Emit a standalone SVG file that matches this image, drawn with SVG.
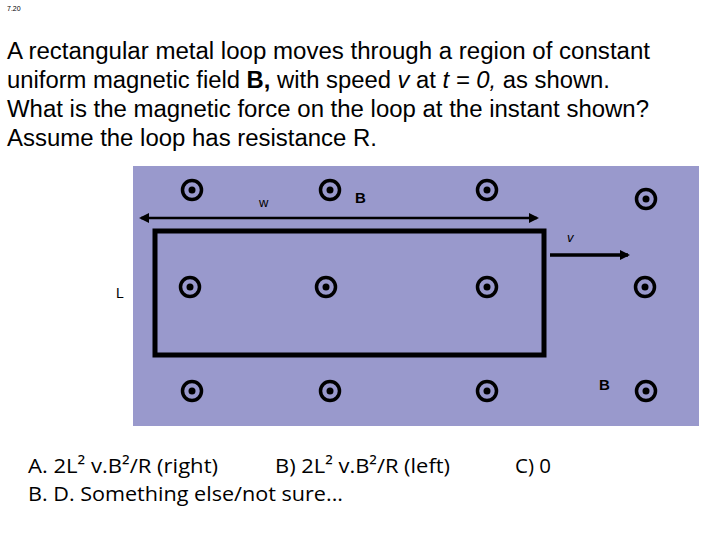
<svg xmlns="http://www.w3.org/2000/svg" width="720" height="540" viewBox="0 0 720 540">
<style>
text{font-family:"Liberation Sans",Arial,sans-serif;fill:#000}
.q{font-size:23.5px}
.c{font-family:"Open Sans","Liberation Sans",sans-serif;font-size:20px}
.ring{fill:none;stroke:#000;stroke-width:3.5}
</style>
<defs>
<marker id="ah" markerWidth="10" markerHeight="10" refX="8" refY="5" orient="auto-start-reverse" markerUnits="userSpaceOnUse"><path d="M0,0 L10,5 L0,10 Z" fill="#000"/></marker>
<g id="dot"><circle r="9.5" class="ring"/><circle r="3.5" fill="#000"/></g>
</defs>
<rect width="720" height="540" fill="#fff"/>
<text x="7" y="11" font-size="7">7.20</text>
<text class="q" x="7" y="59" textLength="643" lengthAdjust="spacingAndGlyphs">A rectangular metal loop moves through a region of constant</text>
<text class="q" x="7" y="88" textLength="603" lengthAdjust="spacingAndGlyphs">uniform magnetic field <tspan font-weight="bold">B,</tspan> with speed <tspan font-style="italic">v</tspan> at <tspan font-style="italic">t = 0,</tspan> as shown.</text>
<text class="q" x="7" y="117" textLength="642" lengthAdjust="spacingAndGlyphs">What is the magnetic force on the loop at the instant shown?</text>
<text class="q" x="7" y="146" textLength="370" lengthAdjust="spacingAndGlyphs">Assume the loop has resistance R.</text>
<rect x="133" y="166" width="566" height="260" fill="#9999cc"/>
<g id="field">
<use href="#dot" x="192" y="190"/><use href="#dot" x="330" y="190"/><use href="#dot" x="487" y="190"/><use href="#dot" x="646" y="199"/>
<use href="#dot" x="190" y="287"/><use href="#dot" x="326" y="287"/><use href="#dot" x="487" y="287"/><use href="#dot" x="645" y="287"/>
<use href="#dot" x="192" y="391"/><use href="#dot" x="330" y="391"/><use href="#dot" x="487" y="391"/><use href="#dot" x="646" y="391"/>
</g>
<g id="loop"><rect x="155" y="231" width="389" height="124" fill="none" stroke="#000" stroke-width="5"/></g>
<g id="connectors">
<line x1="141" y1="218" x2="537" y2="218" stroke="#000" stroke-width="2.5" marker-start="url(#ah)" marker-end="url(#ah)"/>
<line x1="550" y1="255" x2="628" y2="255" stroke="#000" stroke-width="3.5" marker-end="url(#ah)"/>
</g>
<text x="259" y="207" font-size="13">w</text>
<text x="355" y="203" font-size="15" font-weight="bold">B</text>
<text x="567" y="242" font-size="13" font-style="italic">v</text>
<text x="116" y="298" font-size="14">L</text>
<text x="599" y="390" font-size="15" font-weight="bold">B</text>
<text class="c" x="28" y="473" textLength="190" lengthAdjust="spacingAndGlyphs">A.  2L² v.B²/R (right)</text>
<text class="c" x="275" y="473" textLength="175" lengthAdjust="spacingAndGlyphs">B) 2L² v.B²/R  (left)</text>
<text class="c" x="515" y="473" textLength="36" lengthAdjust="spacingAndGlyphs">C) 0</text>
<text class="c" x="28" y="501" textLength="315" lengthAdjust="spacingAndGlyphs">B.  D. Something else/not sure...</text>
</svg>
